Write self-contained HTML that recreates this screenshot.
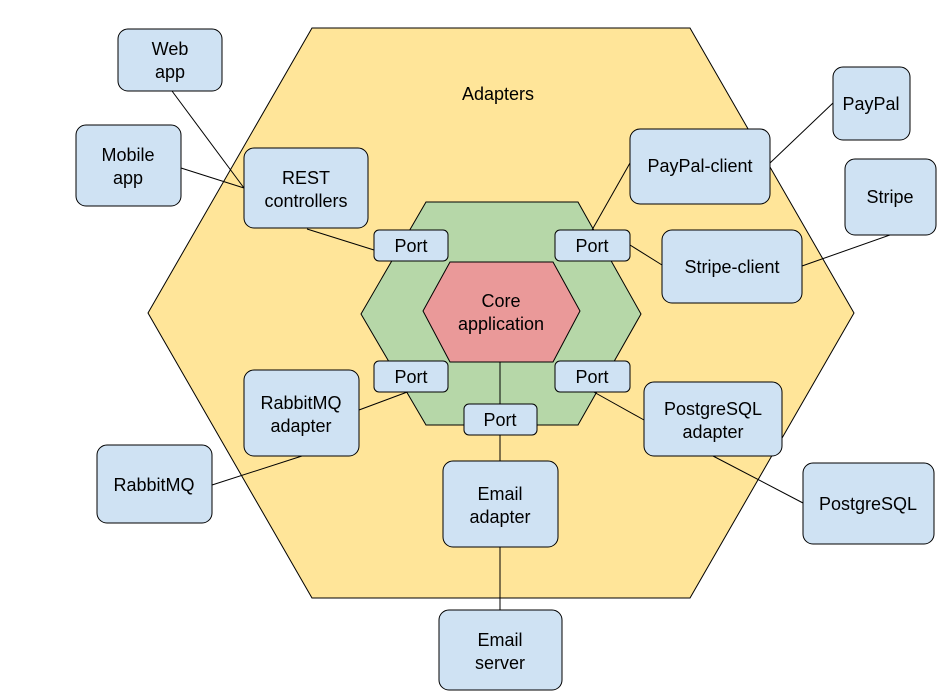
<!DOCTYPE html>
<html><head><style>
html,body{margin:0;padding:0;background:#fff;}
text{font-family:"Liberation Sans",Arial,sans-serif;font-size:18px;fill:#000;}
</style></head><body>
<svg width="944" height="692" viewBox="0 0 944 692" xmlns="http://www.w3.org/2000/svg">
<polygon points="312,28 690,28 854,313 690,598 312,598 148,313" fill="#ffe599" stroke="#000" stroke-width="1"/>
<polygon points="426,202 578,202 641,314 578,425 426,425 361,314" fill="#b6d7a8" stroke="#000" stroke-width="1"/>
<polygon points="450,262 553,262 580,311 553,362 450,362 423,311" fill="#ea9999" stroke="#000" stroke-width="1"/>
<g stroke="#000" stroke-width="1" fill="none">
<line x1="172" y1="91" x2="244" y2="188"/>
<line x1="181" y1="168" x2="244" y2="188"/>
<line x1="307" y1="229" x2="374" y2="250"/>
<line x1="592" y1="230" x2="630" y2="163"/>
<line x1="770" y1="163" x2="833" y2="103"/>
<line x1="630" y1="245" x2="662" y2="265"/>
<line x1="802" y1="266" x2="890" y2="235"/>
<line x1="410" y1="391" x2="359" y2="410"/>
<line x1="302" y1="456" x2="212" y2="485"/>
<line x1="592" y1="391" x2="644" y2="420"/>
<line x1="713" y1="456" x2="803" y2="503"/>
<line x1="500" y1="362" x2="500" y2="404"/>
<line x1="500" y1="435" x2="500" y2="461"/>
<line x1="500" y1="547" x2="500" y2="610"/>
</g>
<g fill="#cfe2f3" stroke="#000" stroke-width="1">
<rect x="118" y="29" width="104" height="62" rx="10"/>
<rect x="76" y="125" width="105" height="81" rx="10"/>
<rect x="244" y="148" width="124" height="80" rx="10"/>
<rect x="630" y="129" width="140" height="75" rx="10"/>
<rect x="833" y="67" width="77" height="73" rx="10"/>
<rect x="845" y="159" width="91" height="76" rx="10"/>
<rect x="662" y="230" width="140" height="73" rx="10"/>
<rect x="374" y="230" width="74" height="31" rx="5"/>
<rect x="555" y="230" width="75" height="31" rx="5"/>
<rect x="374" y="361" width="74" height="31" rx="5"/>
<rect x="555" y="361" width="75" height="31" rx="5"/>
<rect x="464" y="404" width="73" height="31" rx="5"/>
<rect x="244" y="370" width="115" height="86" rx="10"/>
<rect x="97" y="445" width="115" height="78" rx="10"/>
<rect x="644" y="382" width="138" height="74" rx="10"/>
<rect x="803" y="463" width="131" height="81" rx="10"/>
<rect x="443" y="461" width="115" height="86" rx="10"/>
<rect x="439" y="610" width="123" height="80" rx="10"/>
</g>
<g text-anchor="middle">
<text x="498" y="100">Adapters</text>
<text x="170" y="55">Web</text><text x="170" y="78">app</text>
<text x="128" y="161">Mobile</text><text x="128" y="184">app</text>
<text x="306" y="184">REST</text><text x="306" y="207">controllers</text>
<text x="700" y="172">PayPal-client</text>
<text x="871" y="110">PayPal</text>
<text x="890" y="203">Stripe</text>
<text x="732" y="273">Stripe-client</text>
<text x="411" y="252">Port</text>
<text x="592" y="252">Port</text>
<text x="411" y="383">Port</text>
<text x="592" y="383">Port</text>
<text x="500" y="426">Port</text>
<text x="501" y="307">Core</text><text x="501" y="330">application</text>
<text x="301" y="409">RabbitMQ</text><text x="301" y="432">adapter</text>
<text x="154" y="491">RabbitMQ</text>
<text x="713" y="415">PostgreSQL</text><text x="713" y="438">adapter</text>
<text x="868" y="510">PostgreSQL</text>
<text x="500" y="500">Email</text><text x="500" y="523">adapter</text>
<text x="500" y="646">Email</text><text x="500" y="669">server</text>
</g>
</svg>
</body></html>
